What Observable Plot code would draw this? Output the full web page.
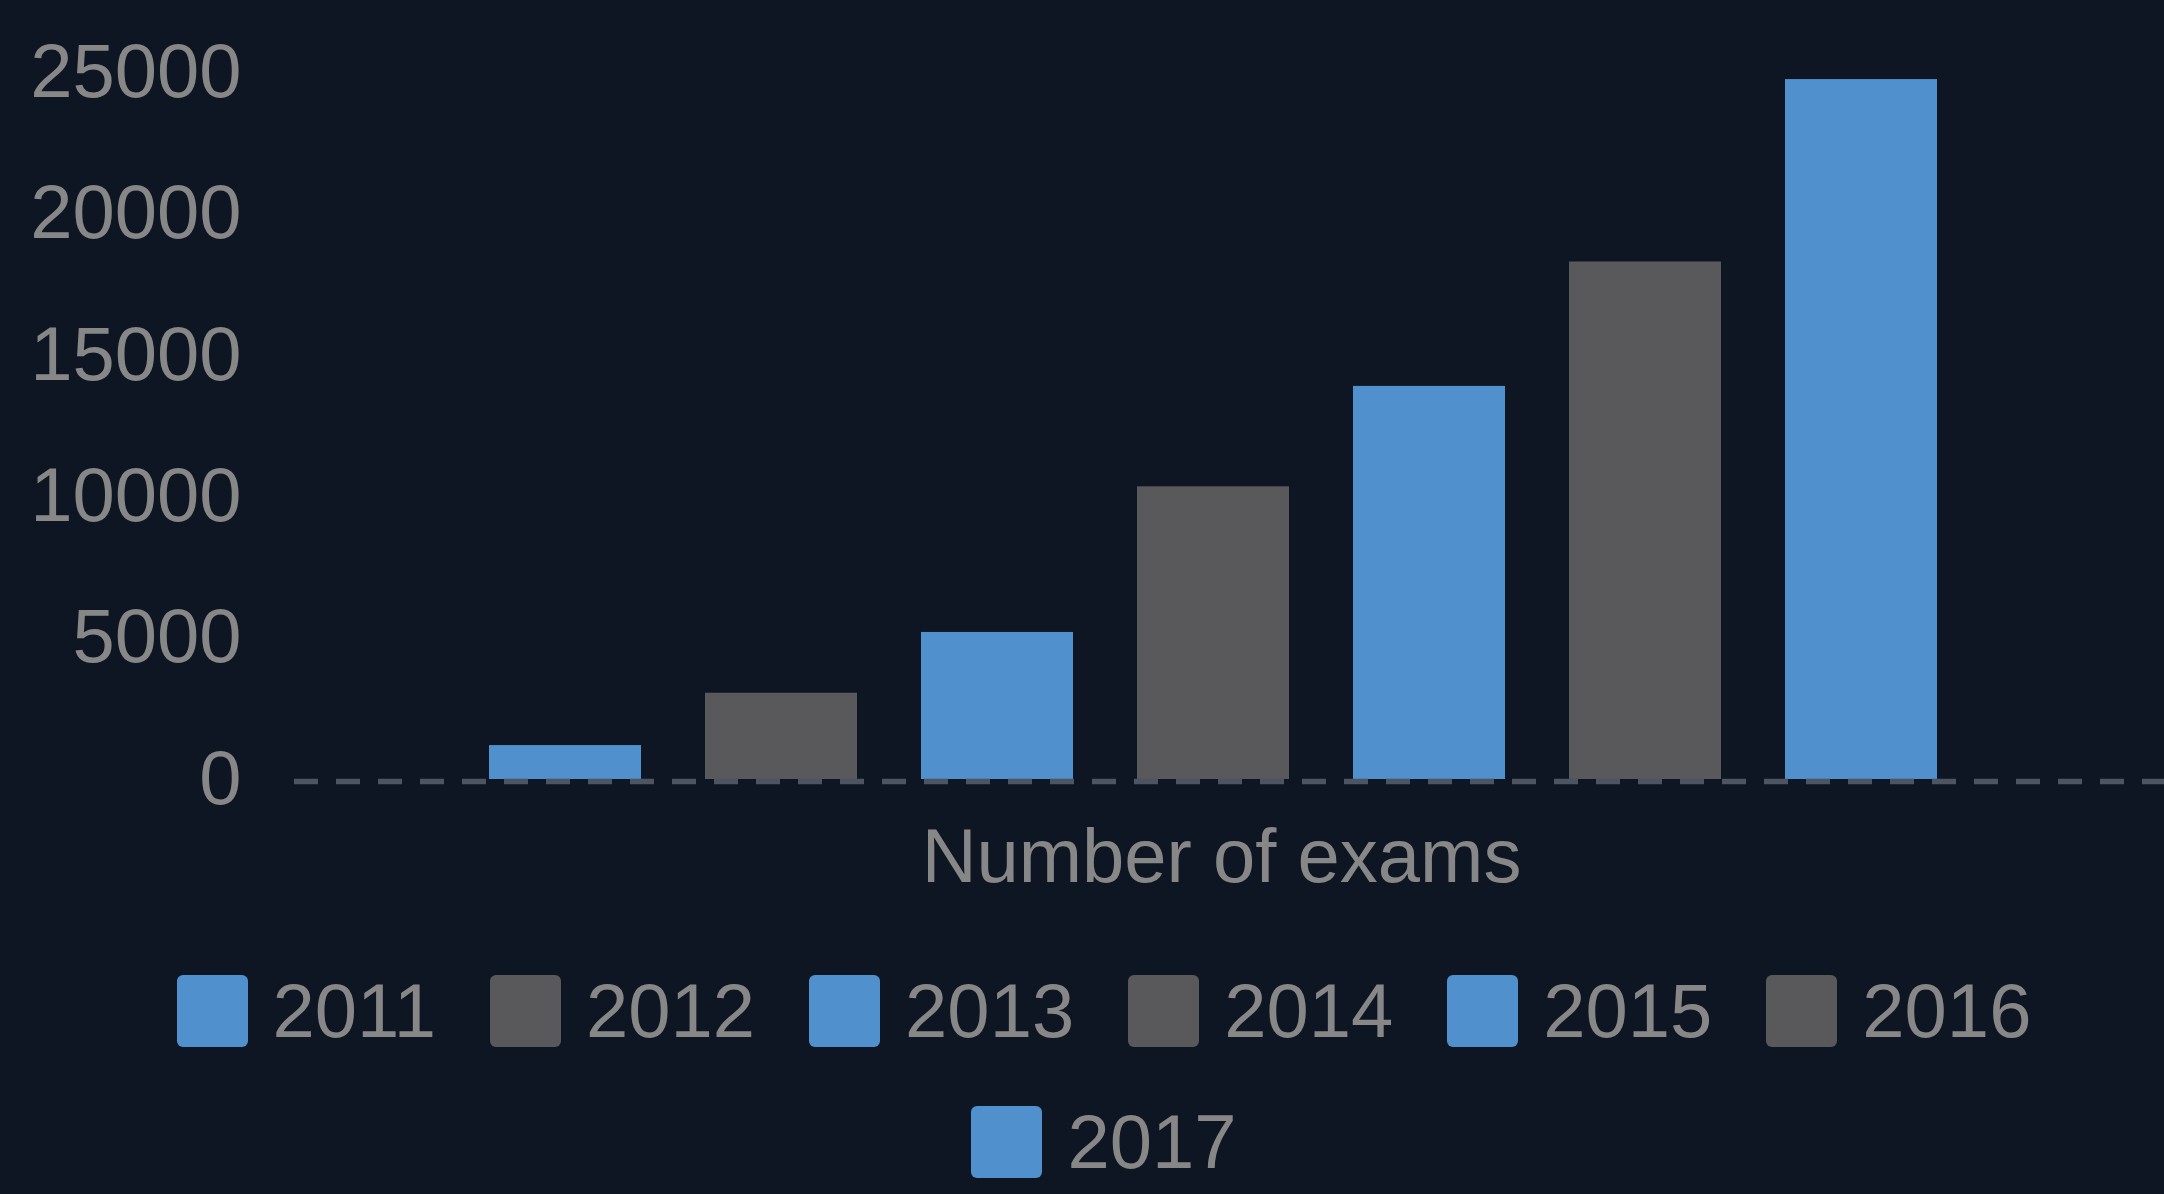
<!DOCTYPE html>
<html>
<head>
<meta charset="utf-8">
<script src="https://cdn.jsdelivr.net/npm/d3@7"></script>
<script src="https://cdn.jsdelivr.net/npm/@observablehq/plot@0.6"></script>
<style>
  html, body { margin: 0; padding: 0; background: #0f1623; }
  #wrap { width: 2164px; height: 1194px; overflow: hidden; background: #0f1623; font-family: "Liberation Sans", Arial, sans-serif; }
  #legend { display: flex; flex-wrap: wrap; justify-content: center; width: 2000px; margin-left: 104px; }
  .item { display: flex; align-items: center; height: 131px; margin: 0 27px; }
  .sw { width: 71px; height: 72px; border-radius: 6px; margin-right: 25px; }
  .lab { font-size: 76px; color: #878787; line-height: 1; }
</style>
</head>
<body>
<div id="wrap"><div id="chart"></div><div id="legend"></div></div>
<script>
const years = ["2011", "2012", "2013", "2014", "2015", "2016", "2017"];
const exams = [1200, 3050, 5200, 10350, 13900, 18300, 24750];
const yTicks = [0, 5000, 10000, 15000, 20000, 25000];
const axisTitle = "Number of exams";

const palette = ["#4f90cd", "#59595b", "#4f90cd", "#59595b", "#4f90cd", "#59595b", "#4f90cd"];
const textColor = "#878787";

const data = years.map((y, i) => ({year: y, value: exams[i]}));

const chart = Plot.plot({
  width: 2164,
  height: 945,
  marginLeft: 294,
  marginRight: 0,
  marginTop: 72,
  marginBottom: 166,
  style: {background: "#0f1623", fontFamily: "Liberation Sans, Arial, sans-serif", fontSize: "76px", color: textColor},
  x: {type: "band", domain: years, range: [425, 2001], padding: 0.296, axis: null},
  y: {domain: [0, 25000], ticks: yTicks, label: null},
  color: {domain: years, range: palette},
  marks: [
    Plot.axisY({ticks: yTicks, tickFormat: d => String(d), tickSize: 0, tickPadding: 53, label: null, fill: textColor, fontSize: 76}),
    Plot.barY(data, {x: "year", y: "value", fill: "year"}),
    Plot.ruleY([0], {stroke: "#4d5562", strokeWidth: 5.5, strokeDasharray: "24,18", dy: 2}),
    Plot.text([axisTitle], {frameAnchor: "bottom", dy: 78, lineAnchor: "middle", fill: textColor, fontSize: 76, dx: -8})
  ]
});
document.getElementById("chart").appendChild(chart);

const legend = document.getElementById("legend");
years.forEach((y, i) => {
  const it = document.createElement("div");
  it.className = "item";
  const sw = document.createElement("div");
  sw.className = "sw";
  sw.style.background = palette[i];
  const lb = document.createElement("span");
  lb.className = "lab";
  lb.textContent = y;
  it.appendChild(sw); it.appendChild(lb);
  legend.appendChild(it);
});
</script>
</body>
</html>
